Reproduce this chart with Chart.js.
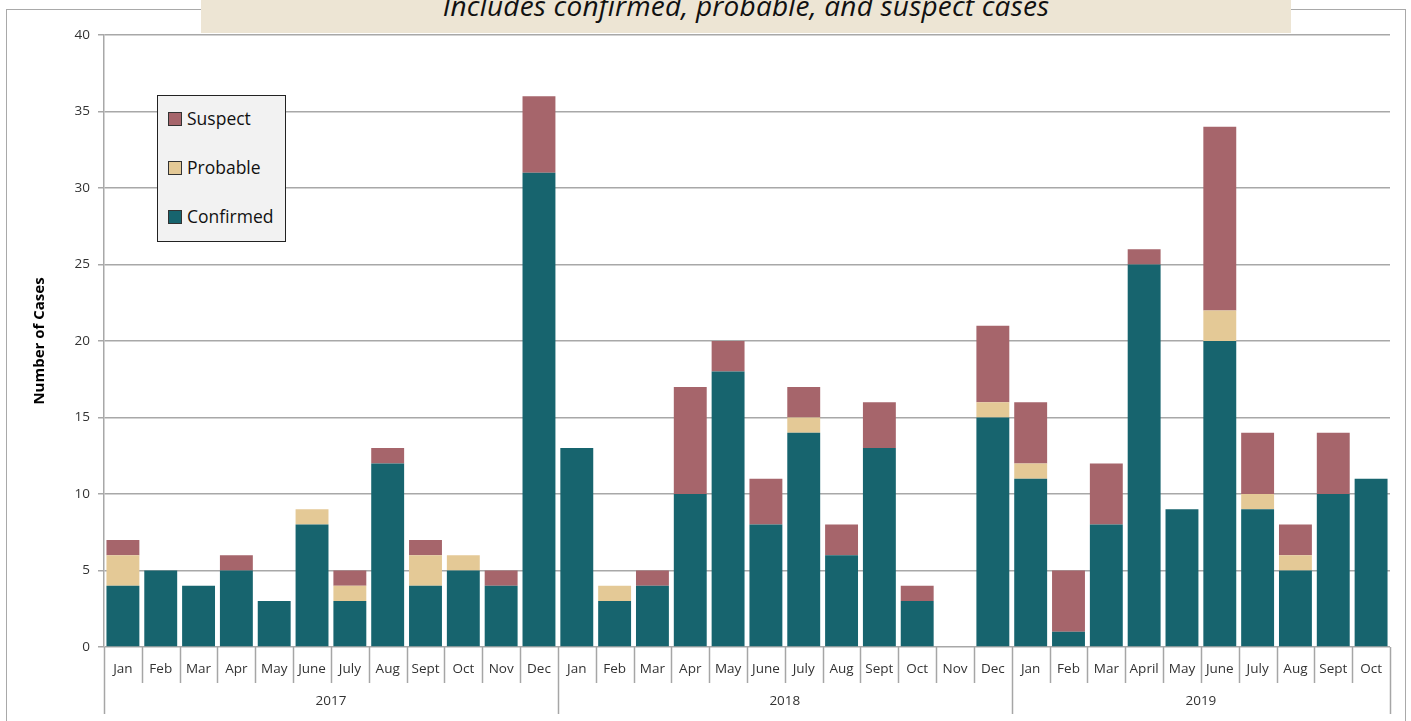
<!DOCTYPE html>
<html>
<head>
<meta charset="utf-8">
<script src="https://cdn.jsdelivr.net/npm/chart.js@4.4.1/dist/chart.umd.min.js"></script>
<style>
  body { margin: 0; background: #fff; }
  #wrap { position: relative; width: 1411px; height: 721px; overflow: hidden; font-family: "Open Sans", sans-serif; }
  #frame { position: absolute; left: 6px; top: 9px; width: 1400px; height: 730px; border: 1.5px solid #a9a9a9; box-sizing: border-box; }
  #banner { position: absolute; left: 201px; top: 0; width: 1090px; height: 33px; background: #ede5d4; overflow: hidden; }
  #banner span { position: absolute; left: 0; right: 0; top: -14px; line-height: 38px; text-align: center; font-style: italic; font-size: 28px; letter-spacing: 0.2px; color: #111; white-space: nowrap; }
  #chart { position: absolute; left: 0; top: 0; }
  #legend { position: absolute; left: 157px; top: 95px; width: 129px; height: 147px; background: #f2f2f2; border: 1px solid #222; box-sizing: border-box; }
  .item { position: absolute; left: 10px; font-size: 17.5px; color: #111; line-height: 20px; }
  .item i { display: inline-block; width: 12px; height: 12px; border: 1px solid #333; margin-right: 5px; vertical-align: -1px; }
</style>
</head>
<body>
<div id="wrap">
  <div id="frame"></div>
  <div id="banner"><span>Includes confirmed, probable, and suspect cases</span></div>
  <canvas id="chart" width="1411" height="721"></canvas>
  <div id="legend"></div>
</div>
<script>
const months = ['Jan','Feb','Mar','Apr','May','June','July','Aug','Sept','Oct','Nov','Dec',
                'Jan','Feb','Mar','Apr','May','June','July','Aug','Sept','Oct','Nov','Dec',
                'Jan','Feb','Mar','April','May','June','July','Aug','Sept','Oct'];
const years = ['2017', '2018', '2019'];
const monthsPerYear = [12, 12, 10];

const confirmed = [4,5,4,5,3,8,3,12,4,5,4,31, 13,3,4,10,18,8,14,6,13,3,0,15, 11,1,8,25,9,20,9,5,10,11];
const probable  = [2,0,0,0,0,1,1,0,2,1,0,0,  0,1,0,0,0,0,1,0,0,0,0,1,     1,0,0,0,0,2,1,1,0,0];
const suspect   = [1,0,0,1,0,0,1,1,1,0,1,5,  0,0,1,7,2,3,2,2,3,1,0,5,     4,4,4,1,0,12,4,2,4,0];

const yTicks = [0, 5, 10, 15, 20, 25, 30, 35, 40];

const series = [
  { label: 'Confirmed', data: confirmed, color: '#17646e' },
  { label: 'Probable', data: probable, color: '#e4c996' },
  { label: 'Suspect', data: suspect, color: '#a6656b' }
];

// month separators, year separators and year labels under the x axis
const yearAxis = {
  id: 'yearAxis',
  afterDraw(chart) {
    const ctx = chart.ctx;
    const x = chart.scales.x;
    const bottom = chart.chartArea.bottom;
    ctx.save();
    ctx.strokeStyle = '#a6a6a6';
    ctx.lineWidth = 1.5;
    const yearStarts = [0];
    monthsPerYear.forEach((n, i) => yearStarts.push(yearStarts[i] + n));
    for (let i = 0; i <= months.length; i++) {
      const px = Math.round(x.getPixelForValue(i - 0.5)) + 0.5;
      const isYear = yearStarts.includes(i);
      ctx.beginPath();
      ctx.moveTo(px, bottom);
      ctx.lineTo(px, bottom + (isYear ? 67 : 36));
      ctx.stroke();
    }
    ctx.fillStyle = '#333';
    ctx.font = '13.5px "Open Sans"';
    ctx.textAlign = 'center';
    ctx.textBaseline = 'middle';
    years.forEach((yr, i) => {
      const a = x.getPixelForValue(yearStarts[i] - 0.5);
      const b = x.getPixelForValue(yearStarts[i + 1] - 0.5);
      ctx.fillText(yr, (a + b) / 2, bottom + 54);
    });
    ctx.restore();
  }
};

new Chart(document.getElementById('chart'), {
  type: 'bar',
  data: {
    labels: months,
    datasets: series.map(s => ({
      label: s.label,
      data: s.data,
      backgroundColor: s.color,
      borderWidth: 0,
      barPercentage: 0.87,
      categoryPercentage: 1
    }))
  },
  options: {
    responsive: false,
    animation: false,
    devicePixelRatio: 1,
    layout: { padding: { top: 35, right: 21, left: 0, bottom: 0 } },
    plugins: {
      legend: { display: false },
      tooltip: { enabled: false }
    },
    scales: {
      x: {
        stacked: true,
        grid: { display: false, drawTicks: false },
        border: { display: false },
        ticks: {
          autoSkip: false,
          maxRotation: 0,
          padding: 14,
          color: '#333',
          font: { family: 'Open Sans', size: 13.5 }
        },
        afterFit: s => { s.height = 74; }
      },
      y: {
        stacked: true,
        min: 0,
        max: 40,
        afterBuildTicks: s => { s.ticks = yTicks.map(v => ({ value: v })); },
        grid: { color: '#a8a8a8', lineWidth: 1.5, tickLength: 6 },
        border: { color: '#a8a8a8', width: 1.5 },
        ticks: {
          padding: 8,
          color: '#333',
          font: { family: 'Open Sans', size: 13.5 }
        },
        title: {
          display: true,
          text: 'Number of Cases',
          color: '#000',
          font: { family: 'Open Sans', size: 15, weight: 'bold' },
          padding: { top: 31, bottom: 0 }
        },
        afterFit: s => { s.width = 104; }
      }
    }
  },
  plugins: [yearAxis]
});

// legend box, listed top to bottom in stack order
const legend = document.getElementById('legend');
series.slice().reverse().forEach((s, i) => {
  const row = document.createElement('div');
  row.className = 'item';
  row.style.top = (12 + i * 49) + 'px';
  row.innerHTML = '<i style="background:' + s.color + '"></i>' + s.label;
  legend.appendChild(row);
});
</script>
</body>
</html>
